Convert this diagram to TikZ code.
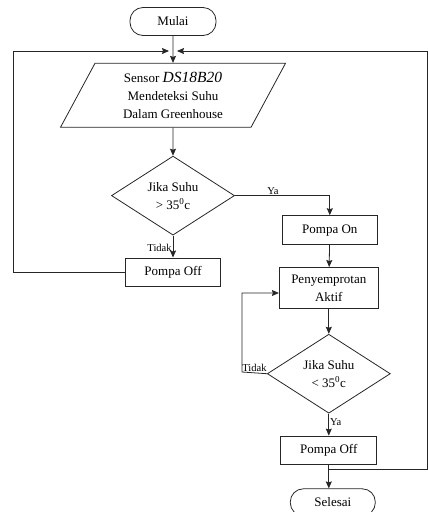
\documentclass[tikz,border=0pt]{standalone}
\usepackage{fontspec}
\setmainfont{Liberation Serif}
\usepackage{tikz}
\usetikzlibrary{shapes.geometric, arrows.meta, positioning}
\tikzstyle{terminal} = [rectangle, rounded corners=13pt, minimum width=86pt, minimum height=28pt, text centered, draw=black!85, line width=0.8pt]
\tikzstyle{io} = [trapezium, trapezium left angle=57, trapezium right angle=123, trapezium stretches body, minimum width=225pt, minimum height=64pt, align=center, draw=black!85, line width=0.8pt]
\tikzstyle{decision} = [diamond, aspect=1.56, minimum width=123pt, minimum height=79pt, inner sep=0pt, align=center, draw=black!85, line width=0.8pt]
\tikzstyle{process} = [rectangle, minimum width=95pt, minimum height=29pt, align=center, draw=black!85, line width=0.8pt]
\tikzstyle{note} = [font=\fontsize{10.5pt}{12pt}\selectfont, inner sep=1pt]
\tikzstyle{arrow} = [line width=0.8pt, draw=black!85, ->, >={Stealth[length=7pt, width=6pt, inset=1pt]}]

\begin{document}
\begin{tikzpicture}[font=\fontsize{13pt}{18pt}\selectfont, x=1pt, y=-1pt]
\useasboundingbox (0,0) rectangle (428,512);

% Kolom kiri
\node (mulai) [terminal] at (173,21.5) {Mulai};
\node (sensor) [io, below=27pt of mulai] {Sensor {\fontsize{15.5pt}{18pt}\selectfont\itshape DS18B20}\\Mendeteksi Suhu\\Dalam Greenhouse};
\node (cek1) [decision, below=28pt of sensor] {Jika Suhu\\> 35\textsuperscript{0}c};
\node (off1) [process, below=22pt of cek1, minimum height=28pt] {Pompa Off};

% Kolom kanan
\node (on) [process, right=47pt of cek1, yshift=-34.5pt] {Pompa On};
\node (semprot) [process, below=22pt of on, xshift=-1pt, minimum width=99pt, minimum height=41pt] {Penyemprotan\\Aktif};
\node (cek2) [decision, below=25pt of semprot] {Jika Suhu\\< 35\textsuperscript{0}c};
\node (off2) [process, below=22pt of cek2, minimum width=96pt, minimum height=28pt] {Pompa Off};
\node (selesai) [terminal, below=24pt of off2, xshift=4pt, minimum width=85pt, minimum height=27pt] {Selesai};

% Titik bantu
\coordinate (gabung) at (mulai |- 0,51);
\coordinate (cabang) at (off2.south |- 0,469);

% Alur utama
\draw [arrow] (mulai) -- (sensor);
\draw [arrow] (sensor) -- (cek1);
\draw [arrow] (cek1) -- node [note, left, pos=0.55] {Tidak} (off1);
\draw [arrow] (cek1.east) -- node [note, above, pos=0.4] {Ya} (cek1.east -| on.north) -- (on);
\draw [arrow] (on) -- (semprot);
\draw [arrow] (semprot) -- (cek2);
\draw [arrow] (cek2) -- node [note, right, pos=0.4] {Ya} (off2);
\draw [arrow] (off2.south) -- (off2.south |- selesai.north);

% Perulangan
\draw [arrow] (off1.west |- 0,272) -- (13,272) -- (13,51) -- ([xshift=-4pt]gabung);
\draw [arrow] (cabang) -- (427,469) -- (427,51) -- ([xshift=4pt]gabung);
\draw [arrow] (cek2.west) -- node [note, above, pos=0.5] {Tidak} (242,372) -- (242,293) -- (semprot.west |- 0,293);

\end{tikzpicture}
\end{document}
